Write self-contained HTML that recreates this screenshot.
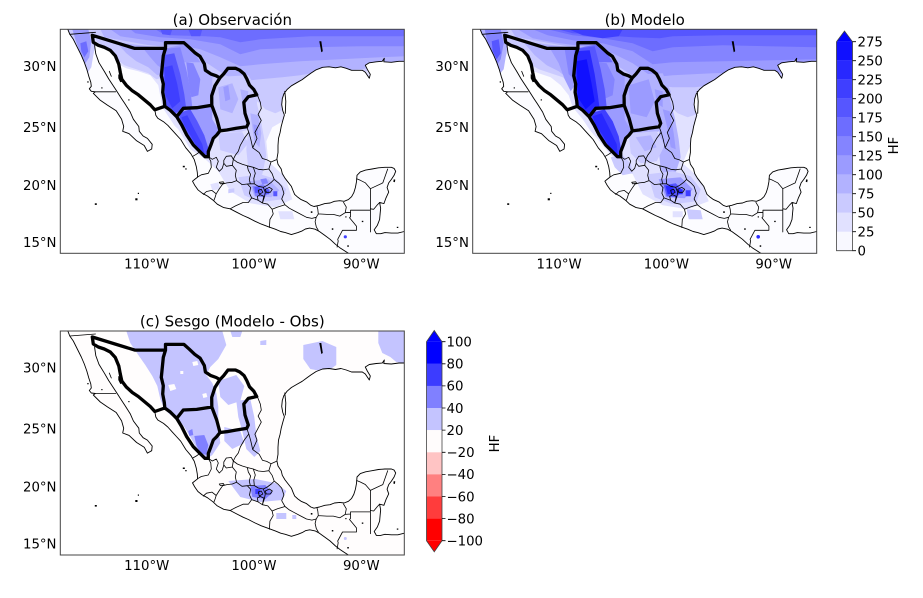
<!DOCTYPE html>
<html><head><meta charset="utf-8"><style>html,body{margin:0;padding:0;background:#fff}svg{display:block}text{font-family:"DejaVu Sans","Liberation Sans",sans-serif;fill:#000}</style></head><body>
<svg width="923" height="598" viewBox="0 0 923 598" xmlns="http://www.w3.org/2000/svg" xmlns:xlink="http://www.w3.org/1999/xlink">
<defs>
<clipPath id="box"><rect x="0" y="0" width="344" height="224"/></clipPath>
<clipPath id="land"><path d="M7.5,0 L9.5,5 L13,10 L17,18 L21,26 L24,33 L26.5,40 L28.5,47 L30.5,53 L31,57 L29,59.5 L31,62 L35,62.5 L33,64 L36,67 L40,71 L47.3,76 L55.9,81.5 L61.3,89.9 L63.4,97.2 L62.4,102 L68.8,104.4 L76.3,111.5 L83.9,116.2 L87.1,122.1 L91.4,119.7 L91.9,115 L87.1,109.1 L82.8,106.7 L79,102 L78.5,97.2 L73.1,90 L69.9,82.7 L64.5,74.2 L61.3,69.4 L55.9,61 L48.4,49.6 L44.1,42.2 L38.7,33.4 L35.5,24.6 L34.4,17 L34.4,13.1 L38,16 L44,18 L50,21 L55,26.5 L58.5,35 L60,43 L61.5,50 L66,56 L72,61.5 L78,65.5 L84,70.5 L90,75.5 L94.5,80.5 L95.5,86 L97.5,89 L103.2,92.4 L107.5,96 L111.8,100.8 L116.1,105.5 L120.4,110.2 L125.5,118.5 L130.5,124.4 L134,130.4 L136,137.3 L137,143.1 L137.3,147.8 L134.4,150.1 L132.2,151.9 L134.4,155.9 L137.6,160.5 L141.9,163.9 L147.3,166.8 L152.65,170.8 L157,174.9 L163.4,178.3 L169.85,179.5 L176.3,182.9 L182.75,186.2 L188.1,188.5 L194.6,191.9 L201,194.8 L208.55,197.6 L215,199.9 L220.4,202.2 L225,203.3 L231.1,205.3 L237.6,203.3 L241.9,201.6 L245.1,199.7 L249.4,198.8 L254.8,199.9 L259.1,202.2 L264.5,206.1 L269.8,210 L275.2,215 L279.5,218.4 L283.8,221.2 L288.1,224 L344,224 L344,202.2 L337.55,203.8 L331.1,203.8 L324.65,203.3 L320.35,204.4 L316.05,204.4 L313.9,200.5 L317.1,195.9 L319.3,190.2 L319.8,184.6 L320.35,178.9 L319.3,173.2 L321.4,173.7 L323.6,174.3 L325.7,168.6 L328.4,162.8 L326.8,158.2 L328.4,153.6 L331.1,150.1 L333.8,146 L335.4,142 L333.8,139.1 L331.1,138 L324.65,138 L318.2,138.5 L311.75,139.7 L305.3,140.8 L300,142.6 L296.7,146 L296.2,152.4 L295.1,158.2 L293.5,163.4 L291.3,167.4 L288.1,170.3 L283.8,172 L279.5,171.4 L274.1,172 L269.8,173.7 L264.5,174.3 L259.1,176 L253.7,177.2 L250.5,176 L246.2,172.6 L240.8,170.3 L237.6,168 L234.35,165.1 L232.7,161.2 L231.1,157.1 L227.9,153 L224.7,148.9 L222,144.3 L220.9,139.7 L217.7,135 L216.6,129.8 L217.7,123.3 L217.7,116.2 L218.2,109.1 L219.8,103.2 L220.9,97.2 L222.5,91.2 L224.1,85.7 L222.5,81.5 L221.4,75.4 L222,69.4 L223.6,64.5 L226.8,60.2 L231.1,56.5 L236.5,53.4 L241.9,50.3 L246.2,47.1 L250.5,44 L255.85,40.5 L262.3,38 L268.75,37.5 L275.2,38.5 L280.6,37.5 L285.95,39 L291.3,41 L297.8,41 L302,41 L305,43 L309,49 L310,45 L307,40 L305,36 L309,33.5 L316,32.5 L322,32 L324,29 L323.5,32.5 L331,33 L338.6,32 L344,32 L344,0 Z"/></clipPath>
<g id="mapLines" fill="none" stroke="#000" stroke-linejoin="round" stroke-linecap="round">
<path stroke-width="0.9" d="M7.5,0 L9.5,5 L13,10 L17,18 L21,26 L24,33 L26.5,40 L28.5,47 L30.5,53 L31,57 L29,59.5 L31,62 L35,62.5 L33,64 L36,67 L40,71 L47.3,76 L55.9,81.5 L61.3,89.9 L63.4,97.2 L62.4,102 L68.8,104.4 L76.3,111.5 L83.9,116.2 L87.1,122.1 L91.4,119.7 L91.9,115 L87.1,109.1 L82.8,106.7 L79,102 L78.5,97.2 L73.1,90 L69.9,82.7 L64.5,74.2 L61.3,69.4 L55.9,61 L48.4,49.6 L44.1,42.2 L38.7,33.4 L35.5,24.6 L34.4,17 L34.4,13.1 M94.5,80.5 L95.5,86 L97.5,89 L103.2,92.4 L107.5,96 L111.8,100.8 L116.1,105.5 L120.4,110.2 L125.5,118.5 L130.5,124.4 L134,130.4 L136,137.3 L137,143.1 L137.3,147.8 L134.4,150.1 L132.2,151.9 L134.4,155.9 L137.6,160.5 L141.9,163.9 L147.3,166.8 L152.65,170.8 L157,174.9 L163.4,178.3 L169.85,179.5 L176.3,182.9 L182.75,186.2 L188.1,188.5 L194.6,191.9 L201,194.8 L208.55,197.6 L215,199.9 L220.4,202.2 L225,203.3 L231.1,205.3 L237.6,203.3 L241.9,201.6 L245.1,199.7 L249.4,198.8 L254.8,199.9 L259.1,202.2 L264.5,206.1 L269.8,210 L275.2,215 L279.5,218.4 L283.8,221.2 L288.1,224 M344,202.2 L337.55,203.8 L331.1,203.8 L324.65,203.3 L320.35,204.4 L316.05,204.4 L313.9,200.5 L317.1,195.9 L319.3,190.2 L319.8,184.6 L320.35,178.9 L319.3,173.2 L321.4,173.7 L323.6,174.3 L325.7,168.6 L328.4,162.8 L326.8,158.2 L328.4,153.6 L331.1,150.1 L333.8,146 L335.4,142 L333.8,139.1 L331.1,138 L324.65,138 L318.2,138.5 L311.75,139.7 L305.3,140.8 L300,142.6 L296.7,146 L296.2,152.4 L295.1,158.2 L293.5,163.4 L291.3,167.4 L288.1,170.3 L283.8,172 L279.5,171.4 L274.1,172 L269.8,173.7 L264.5,174.3 L259.1,176 L253.7,177.2 L250.5,176 L246.2,172.6 L240.8,170.3 L237.6,168 L234.35,165.1 L232.7,161.2 L231.1,157.1 L227.9,153 L224.7,148.9 L222,144.3 L220.9,139.7 L217.7,135 L216.6,129.8 L217.7,123.3 L217.7,116.2 L218.2,109.1 L219.8,103.2 L220.9,97.2 L222.5,91.2 L224.1,85.7 L222.5,81.5 L221.4,75.4 L222,69.4 L223.6,64.5 L226.8,60.2 L231.1,56.5 L236.5,53.4 L241.9,50.3 L246.2,47.1 L250.5,44 L255.85,40.5 L262.3,38 L268.75,37.5 L275.2,38.5 L280.6,37.5 L285.95,39 L291.3,41 L297.8,41 L302,41 L305,43 L309,49 L310,45 L307,40 L305,36 L309,33.5 L316,32.5 L322,32 L324,29 L323.5,32.5 L331,33 L338.6,32 L344,32 M224.5,62 L225.5,72 L225,84"/>
<path stroke-width="0.8" d="M9.5,5 L35.2,3 M35,62.5 L55.5,62.5 M132.5,127 L136,125 L139.7,122.4 M148,127.4 L150.5,132 L151,138 L148,144 L141,145.5 L137.1,147.8 M148,127.4 L152,130 L156,128 L158,132 L156,138 L159,142 L162,139 L163.5,134 M163.5,131 L166,127 L171,126.5 L173,130 L172,136 L166,137 L163.5,134 Z M186.4,97.4 L188.5,103 L184,109 L180,116 L178,122 L175,126 L173,130 M188.5,103 L190.5,110 L192.4,118.5 M197,65.5 L200,73 L201,79.1 L197.8,85.1 L201,91.1 L197.8,97.2 L194.6,103.2 L196.7,109.1 L194.6,113.8 L192.4,118.5 M192.4,118.5 L198.9,123.3 L202.1,129.2 L206.4,130.4 L210.7,132.7 L216,130.4 M173,130 L177,133 L182,135 L187,136.5 L193,138 L198,140 L203,140.5 L208.55,139.7 M210.7,132.7 L208.55,139.7 L211.8,144.3 L213.9,150.1 L218.2,153.6 L221.4,157.1 L223.6,164 L221.4,169.7 L224.7,175.5 L229,178.9 L233.3,181.2 L239.7,184.6 L246.2,188 L251.6,189.1 L255.9,188 L258,184.6 L257.5,180 L256.6,176.6 M255.9,188 L254.8,192.4 L256,197.6 L258,201 M258,184.6 L266.6,185.1 L273,185.1 L279.5,186.8 L284.9,183.4 L286,177.8 L283.2,173 M276.8,217.8 L277.9,211.7 L277.4,210 L282.2,201 L296.2,201 L296.2,197 L293.5,193.6 L289.2,188.5 L290.25,187.4 L290.25,180.9 L310.1,180.9 M284.9,183.4 L290.25,183 M310.1,202.7 L310.1,179.5 L313.4,180 L317.1,175.5 L319.3,173.2 M310.1,180.9 L310.1,159.4 M296.3,149.5 L300,151 L305,153.5 L310.1,159.4 L322.5,153.6 L327.4,139.7 M209.1,198.2 L209.6,190.2 L212.9,184.6 L211.8,180 L217.2,177.8 L224.7,175.5 M169.85,179.5 L175.2,176.6 L182.75,173.2 L188.1,173.2 L191.35,168.6 L197.8,170.9 L202.1,173.7 L207.5,174.9 L211.8,180 M142.97,165.1 L146.2,162.2 L151.6,161.1 L155.9,164.5 L154.8,168 L153.7,170.8 M155.9,164.5 L159.1,159.4 L162.3,154.8 L166.6,153.6 L172,153 L176.3,151.3 M176.3,151.3 L181.7,155.3 L187,154.7 L190.3,158.2 L189.2,164 L191.35,168.6 M172,136 L176,141 L175,146 L176.3,151.3 M187,136.5 L188,141 L190.3,145 L189,150 L190,154.5 M193,138 L195,144 L193.5,149 L194,154.5 L190,154.5 L187,154.7 M194,154.5 L198,157 L203,158 L207,156 L211,153 L213.9,150.1 M203,158 L205,163 L204,168 L202.1,173.7 M197.8,170.9 L197,167 L200,165.5 L203.5,167 L202.1,173.7 M198,161 L201,160 L202.5,163 L199,165 Z M205,160 L209,158 L212,160 L210,163 L206,163 Z M159,153 L163,152.5 L164,154 L160,154.5 Z M49,42 L51,47"/>
<path stroke-width="3.3" d="M32,6 L74.5,19.1 L105.2,19.1 L103,26.4 L102,36.4 L101,46.4 L103,54.7 L102.4,63 L104,71.4 L104.5,77 L94.5,80.5 L90,75.5 L84,70.5 L78,65.5 L72,61.5 L66,56 L61.5,50 L60,43 L58.5,35 L55,26.5 L50,21 L44,18 L38,16 L33,13 Z M105.2,19.1 L105.2,13.4 L123.6,13.4 L129,18.2 L134.4,23.3 L139.75,27.1 L144.05,34.6 L145.1,41 L150.5,44.6 L155.9,46.5 L159.6,48.6 L154.7,56.4 L151.4,66.4 L151.5,76 L136.4,78.4 L123,79 L116.4,87.4 L110,81 L104.5,77 M159.6,48.6 L163.4,44.6 L167.7,39 L175.2,39 L179.5,41 L183.8,44.6 L186.5,49.6 L189.2,55.8 L193.5,60.2 L196.4,65.5 L188,67.4 L183.5,73 L184.7,84 L188,94 L186.4,97.4 L176,99 L166.4,100.7 L159.7,101.5 L156.4,89 L151.5,76 M116.4,87.4 L121.4,95.7 L126.4,105.7 L133,115.7 L139.7,122.4 L144.7,127.4 L148,127.4 L148,122.4 L150.5,116 L153,109 L156.4,105.7 L159.7,101.5"/>
<g fill="#000" stroke="none">
<path d="M58,45 L62,47 L63,52 L60,53 L58,49 Z"/>
<rect x="34.5" y="174" width="2" height="1.6"/><rect x="75" y="169" width="2.2" height="2"/><rect x="77.5" y="163.5" width="1.2" height="1.2"/>
<rect x="122.5" y="136.5" width="2" height="1.5"/><rect x="125" y="139" width="1.3" height="1.3"/>
<path d="M259,12 L261,12 L262.5,22 L261,23 Z"/>
<rect x="250.5" y="182" width="1.6" height="1.6"/><rect x="271.5" y="199" width="1.5" height="1.5"/><rect x="287" y="216" width="1.5" height="1.5"/><rect x="301.5" y="191.5" width="1.5" height="1.3"/><rect x="336.5" y="197.5" width="1.5" height="1.2"/><rect x="285" y="187" width="1.2" height="1.2"/>
<path d="M333.5,150 L335,150.5 L334.5,153 L333,152.5 Z"/>
<rect x="27" y="52" width="1.3" height="1.3"/><rect x="41" y="58" width="1.2" height="1.2"/><rect x="68" y="70" width="1.2" height="1.2"/>
</g>
</g>
</defs>

<!-- Panel (a) -->
<g transform="translate(60.3,29.3)">
<g clip-path="url(#box)">
<g clip-path="url(#land)">
<rect x="0" y="0" width="344" height="224" fill="#fcfcff"/>
<path fill="#e1e1ff" d="M0,0 H344 V62 L300,60 L260,62 L232,70 L226,90 L212,98 L206,112 L208,132 L225,148 L232,170 L215,178 L190,174 L170,162 L158,142 L145,130 L130,120 L118,100 L105,88 L90,70 L70,50 L50,35 L38,40 L30,55 L22,48 L10,20 Z"/>
<path fill="#cacaff" d="M30,0 H344 V40 L300,42 L262,45 L240,52 L228,60 L224,80 L215,84 L205,80 L195,70 L185,62 L170,55 L155,48 L140,35 L120,25 L105,21 L80,19 L60,17 L40,14 Z"/>
<path fill="#b2b2ff" d="M40,0 H344 V33 L300,40 L262,42 L240,46 L222,48 L200,50 L180,52 L165,46 L150,36 L130,24 L110,18 L80,15 L60,13 L45,10 Z"/>
<path fill="#9b9bff" d="M50,0 H344 V27 L320,28 L280,30 L240,32 L200,35 L180,37 L160,28 L140,20 L110,14 L80,10 L60,7 Z"/>
<path fill="#8484ff" d="M70,0 H344 V17 L300,17 L250,18 L200,20 L180,25 L160,15 L130,10 L100,8 L75,4 Z"/>
<path fill="#6d6dff" d="M95,0 H344 V7 L250,7 L200,10 L180,13 L160,8 L145,7 L110,6 L100,3 Z"/>
<path fill="#5656ff" d="M100,0 L112,0 L110,6 L102,5 Z M128,0 L142,0 L140,7 L131,7 Z"/>
<path fill="#cacaff" d="M34,6 L105,19 L104,48 L96,50 L88,44 L76,40 L64,36 L54,28 L44,18 L36,12 Z"/>
<path fill="#b2b2ff" d="M56,13 L105,19 L104,44 L97,46 L88,38 L76,32 L66,24 Z"/>
<path fill="#9b9bff" d="M82,18 L104,19 L103,40 L97,36 L90,28 Z"/>
<path fill="#fcfcff" d="M36,16 L46,24 L56,34 L66,39 L78,42 L90,46 L98,56 L102,78 L110,90 L118,102 L126,116 L134,128 L142,140 L150,152 L140,165 L100,150 L60,110 L30,70 L28,40 Z"/>
<path fill="#cacaff" d="M6,0 L34,0 L35,14 L31,38 L27,44 L21,38 L15,22 Z"/>
<path fill="#9b9bff" d="M12,0 L28,0 L31,12 L29,28 L25,34 L20,24 L15,10 Z"/>
<path fill="#6d6dff" d="M20,14 L26,12 L28,22 L24,28 L21,22 Z"/>
<path fill="#b2b2ff" d="M104,20 L124,15 L135,25 L145,38 L156,48 L152,60 L151,76 L124,80 L117,87 L104,77 Z"/>
<path fill="#9b9bff" d="M105,19 L124,15 L135,25 L140,33 L120,33 L105,35 Z"/>
<path fill="#8484ff" d="M126,33 L133,34 L140,50 L138,66 L131,68 L128,50 Z"/>
<path fill="#8484ff" d="M102,20 L120,18 L126,40 L130,60 L132,78 L124,82 L116,86 L105,78 L102,60 Z"/>
<path fill="#5656ff" d="M103,26 L114,24 L120,45 L124,65 L126,80 L114,84 L106,76 L103,55 Z"/>
<path fill="#3f3fff" d="M104,38 L112,36 L117,55 L120,72 L112,79 L105,66 Z"/>
<path fill="#9b9bff" d="M123,79 L150,76 L156,89 L159,101 L150,116 L148,127 L144,127 L133,116 L121,96 L116,87 Z"/>
<path fill="#5656ff" d="M118,84 L130,80 L137,92 L144,106 L149,122 L144,128 L138,122 L130,110 L122,97 Z"/>
<path fill="#3f3fff" d="M121,88 L127,86 L134,100 L142,115 L144,124 L138,120 L130,106 L124,96 Z"/>
<path fill="#cacaff" d="M152,48 L188,46 L198,62 L196,80 L193,98 L180,103 L160,103 L152,90 Z"/>
<path fill="#b2b2ff" d="M158,58 L172,54 L178,70 L172,84 L160,80 Z M180,60 L188,62 L187,75 L182,72 Z"/>
<path fill="#9b9bff" d="M163,58 L168,56 L170,70 L165,72 Z"/>
<path fill="#cacaff" d="M184,70 L195,68 L200,88 L204,110 L206,126 L202,145 L195,150 L188,140 L186,120 L188,100 L186,85 Z M158,104 L182,103 L188,114 L178,126 L160,121 Z"/>
<path fill="#b2b2ff" d="M190,84 L198,86 L201,104 L199,118 L194,112 L192,98 Z"/>
<path fill="#9b9bff" d="M193,95 L197,96 L198,106 L194,105 Z"/>
<path fill="#cacaff" d="M178,148 L200,145 L216,150 L226,160 L222,170 L200,173 L184,166 Z"/>
<path fill="#b2b2ff" d="M188,152 L208,150 L219,161 L211,168 L194,167 Z"/>
<path fill="#8484ff" d="M192,157 L203,155 L210,162 L204,168 L195,167 Z M200,150 L206,149 L208,154 L202,155 Z"/>
<path fill="#5656ff" d="M194,158 L199,157 L201,163 L195,164 Z M205,160 L209,160 L209,165 L205,165 Z M213,162 L217,162 L217,167 L213,167 Z"/>
<path fill="#e1e1ff" d="M150,155 L158,153 L160,160 L152,161 Z M218,182 L232,182 L234,190 L220,190 Z"/>
<path fill="#cacaff" d="M168,160 L174,159 L174,163 L168,164 Z"/>
<circle cx="285" cy="207.5" r="1.6" fill="#3f3fff"/>
</g>
<use href="#mapLines" xlink:href="#mapLines"/>
</g>
<rect x="0" y="0" width="344" height="224" fill="none" stroke="#444" stroke-width="1"/>
</g>

<!-- Panel (b) -->
<g transform="translate(472.7,29.3)">
<g clip-path="url(#box)">
<g clip-path="url(#land)">
<rect x="0" y="0" width="344" height="224" fill="#fcfcff"/>
<path fill="#e1e1ff" d="M0,0 H344 V65 L300,62 L262,64 L232,72 L226,95 L216,120 L210,134 L228,150 L236,172 L215,180 L190,176 L170,165 L160,145 L150,135 L140,128 L125,110 L112,95 L95,75 L75,55 L55,40 L40,45 L30,58 L22,50 L10,20 Z"/>
<path fill="#cacaff" d="M30,0 H344 V45 L300,50 L262,55 L240,62 L228,68 L224,85 L215,88 L205,84 L195,75 L185,66 L170,58 L155,50 L140,38 L120,28 L105,22 L80,20 L60,18 L40,15 Z"/>
<path fill="#b2b2ff" d="M38,0 H344 V40 L300,46 L262,52 L240,56 L222,58 L200,58 L180,56 L165,50 L150,40 L130,28 L110,20 L80,17 L60,15 L45,11 Z"/>
<path fill="#9b9bff" d="M45,0 H344 V40 L320,42 L280,43 L240,44 L200,46 L180,48 L160,34 L140,24 L110,17 L80,13 L60,9 Z"/>
<path fill="#8484ff" d="M60,0 H344 V30 L300,31 L250,32 L200,33 L180,35 L160,22 L130,14 L100,11 L75,6 Z"/>
<path fill="#6d6dff" d="M75,0 H344 V18 L250,16 L200,18 L180,22 L160,14 L130,9 L100,6 Z"/>
<path fill="#5656ff" d="M85,0 H344 V6 L250,6 L200,7 L187,9 L160,8 L130,6 L100,4 Z"/>
<path fill="#3f3fff" d="M96,0 L150,0 L146,7 L130,9 L110,6 Z"/>
<path fill="#cacaff" d="M34,6 L105,19 L104,50 L98,55 L90,48 L78,44 L66,40 L56,34 L46,24 L36,15 Z"/>
<path fill="#b2b2ff" d="M50,12 L105,19 L104,48 L96,50 L86,42 L74,36 L62,26 Z"/>
<path fill="#9b9bff" d="M76,17 L105,19 L103,55 L98,62 L92,50 L86,34 Z"/>
<path fill="#8484ff" d="M92,20 L104,20 L102,50 L96,45 Z"/>
<path fill="#fcfcff" d="M36,20 L46,30 L56,40 L66,44 L78,48 L88,56 L96,66 L100,78 L110,90 L118,102 L126,116 L134,128 L142,140 L150,152 L140,165 L100,150 L60,110 L30,70 L28,40 Z"/>
<path fill="#b2b2ff" d="M6,0 L34,0 L35,16 L31,40 L26,46 L20,40 L14,22 Z"/>
<path fill="#8484ff" d="M12,0 L28,0 L31,14 L28,30 L24,36 L19,24 L14,10 Z"/>
<path fill="#5656ff" d="M19,12 L26,10 L28,24 L24,30 L20,22 Z"/>
<path fill="#9b9bff" d="M104,20 L124,15 L135,25 L145,38 L156,48 L152,60 L151,76 L124,80 L117,87 L104,77 Z"/>
<path fill="#6d6dff" d="M105,19 L124,15 L135,25 L140,33 L120,33 L105,35 Z"/>
<path fill="#8484ff" d="M124,33 L134,34 L142,50 L140,66 L131,70 L127,50 Z"/>
<path fill="#5656ff" d="M102,20 L122,17 L128,40 L132,60 L134,78 L124,83 L116,87 L105,78 L102,60 Z"/>
<path fill="#2828ff" d="M103,22 L117,21 L122,45 L125,65 L127,80 L114,85 L106,76 L103,55 Z"/>
<path fill="#1010ff" d="M104,32 L114,30 L119,55 L122,72 L113,80 L105,68 Z"/>
<path fill="#9b9bff" d="M123,79 L150,76 L156,89 L159,101 L150,116 L148,127 L144,127 L133,116 L121,96 L116,87 Z"/>
<path fill="#3f3fff" d="M118,84 L132,80 L140,92 L146,107 L149,124 L144,128 L137,122 L128,108 L121,96 Z"/>
<path fill="#2828ff" d="M120,87 L129,84 L137,100 L144,115 L145,125 L138,120 L130,106 L123,96 Z"/>
<path fill="#b2b2ff" d="M152,46 L190,44 L198,62 L196,80 L193,100 L180,104 L160,104 L152,90 Z M184,70 L196,66 L202,88 L206,110 L208,128 L202,146 L195,150 L188,140 L186,120 L187,90 Z"/>
<path fill="#9b9bff" d="M156,56 L176,50 L182,72 L174,88 L158,84 Z M182,60 L190,62 L190,78 L184,74 Z M190,80 L197,82 L201,104 L203,120 L198,118 L195,100 Z"/>
<path fill="#cacaff" d="M156,104 L184,102 L192,116 L184,132 L168,134 L158,124 Z M138,128 L150,126 L158,134 L160,144 L150,146 L142,138 Z M175,145 L200,142 L218,147 L228,160 L224,172 L200,175 L182,168 Z M214,180 L228,181 L230,190 L216,190 Z"/>
<path fill="#b2b2ff" d="M163,108 L178,106 L184,118 L172,122 Z"/>
<path fill="#9b9bff" d="M186,150 L208,148 L220,160 L212,169 L193,168 Z"/>
<path fill="#5656ff" d="M191,156 L203,154 L210,161 L204,168 L194,167 Z"/>
<path fill="#2828ff" d="M193,157 L200,156 L202,164 L195,165 Z M205,160 L210,160 L210,165 L205,165 Z"/>
<path fill="#3f3fff" d="M213,161 L218,161 L218,167 L213,167 Z"/>
<path fill="#e1e1ff" d="M200,182 L210,182 L210,188 L200,188 Z"/>
<circle cx="285.5" cy="207.5" r="1.8" fill="#2828ff"/>
</g>
<use href="#mapLines" xlink:href="#mapLines"/>
</g>
<rect x="0" y="0" width="344" height="224" fill="none" stroke="#444" stroke-width="1"/>
</g>

<!-- Panel (c) -->
<g transform="translate(60.3,331)">
<g clip-path="url(#box)">
<g clip-path="url(#land)">
<rect x="0" y="0" width="344" height="224" fill="#fffdfd"/>
<path fill="#c4c4ff" d="M66,0 L162,0 L166,14 L158,28 L150,36 L146,44 L152,52 L156,62 L158,76 L158,95 L160,112 L152,124 L146,128 L138,120 L130,106 L124,96 L118,88 L110,84 L104,78 L100,68 L97,55 L92,45 L85,34 L78,24 L70,12 Z M158,50 L176,44 L184,55 L180,70 L168,74 L160,66 Z M176,70 L190,68 L194,86 L196,104 L200,120 L194,126 L186,118 L182,100 L178,86 Z M164,96 L180,100 L184,112 L172,118 L164,110 Z M243,14 L262,10 L276,16 L276,34 L266,41 L250,38 L243,28 Z M318,0 H344 V32 L336,31 L330,26 L322,22 L318,12 Z M170,0 L182,0 L180,6 L172,6 Z M200,10 L206,9 L206,14 L200,14 Z M168,150 L195,148 L215,152 L226,160 L222,169 L200,171 L180,166 Z M216,182 L226,182 L226,188 L216,188 Z M232,184 L236,184 L236,188 L232,188 Z"/>
<path fill="#fffdfd" d="M108,54 L114,53 L116,58 L110,60 Z M132,31 L137,30 L138,34 L133,35 Z M142,63 L146,62 L147,66 L143,67 Z M120,40 L123,40 L123,43 L120,43 Z"/>
<path fill="#8080ff" d="M134,105 L144,104 L148,114 L146,124 L140,122 L136,114 Z M128,100 L132,98 L133,104 L129,105 Z M190,155 L205,154 L212,162 L205,168 L192,166 Z"/>
<path fill="#3c3cff" d="M195,158 L200,158 L200,163 L195,163 Z"/>
<circle cx="285" cy="207.5" r="1.5" fill="#c4c4ff"/>
</g>
<use href="#mapLines" xlink:href="#mapLines"/>
</g>
<rect x="0" y="0" width="344" height="224" fill="none" stroke="#444" stroke-width="1"/>
</g>

<!-- Titles -->
<text x="232.3" y="25" font-size="15" text-anchor="middle">(a) Observación</text>
<text x="644.7" y="25" font-size="15" text-anchor="middle">(b) Modelo</text>
<text x="232.3" y="326.5" font-size="15" text-anchor="middle">(c) Sesgo (Modelo - Obs)</text>

<!-- Tick labels -->
<g font-size="13.3">
<g text-anchor="end">
<text x="56.5" y="71">30°N</text><text x="56.5" y="132">25°N</text><text x="56.5" y="190">20°N</text><text x="56.5" y="247">15°N</text>
<text x="468.9" y="71">30°N</text><text x="468.9" y="132">25°N</text><text x="468.9" y="190">20°N</text><text x="468.9" y="247">15°N</text>
<text x="56.5" y="372.7">30°N</text><text x="56.5" y="433.7">25°N</text><text x="56.5" y="491.7">20°N</text><text x="56.5" y="548.7">15°N</text>
</g>
<g text-anchor="middle">
<text x="146.7" y="268.3">110°W</text><text x="254" y="268.3">100°W</text><text x="361.3" y="268.3">90°W</text>
<text x="559.1" y="268.3">110°W</text><text x="666.4" y="268.3">100°W</text><text x="773.7" y="268.3">90°W</text>
<text x="146.7" y="570">110°W</text><text x="254" y="570">100°W</text><text x="361.3" y="570">90°W</text>
</g>
</g>

<!-- Colorbar (b) -->
<g>
<rect x="836.5" y="231.7" width="16" height="19" fill="#f8f8ff"/>
<rect x="836.5" y="212.7" width="16" height="19" fill="#e1e1ff"/>
<rect x="836.5" y="193.7" width="16" height="19" fill="#cacaff"/>
<rect x="836.5" y="174.7" width="16" height="19" fill="#b2b2ff"/>
<rect x="836.5" y="155.7" width="16" height="19" fill="#9b9bff"/>
<rect x="836.5" y="136.7" width="16" height="19" fill="#8484ff"/>
<rect x="836.5" y="117.7" width="16" height="19" fill="#6d6dff"/>
<rect x="836.5" y="98.7" width="16" height="19" fill="#5656ff"/>
<rect x="836.5" y="79.7" width="16" height="19" fill="#3f3fff"/>
<rect x="836.5" y="60.7" width="16" height="19" fill="#2828ff"/>
<rect x="836.5" y="41.7" width="16" height="19" fill="#1010ff"/>
<path d="M836.5,41.7 L844.5,31 L852.5,41.7 Z" fill="#0000ff"/>
<path d="M836.5,41.7 L844.5,31 L852.5,41.7 L852.5,250.7 L836.5,250.7 Z" fill="none" stroke="#444" stroke-width="0.8"/>
<path stroke="#000" stroke-width="0.8" d="M852.5,250.7h3.5M852.5,231.7h3.5M852.5,212.7h3.5M852.5,193.7h3.5M852.5,174.7h3.5M852.5,155.7h3.5M852.5,136.7h3.5M852.5,117.7h3.5M852.5,98.7h3.5M852.5,79.7h3.5M852.5,60.7h3.5M852.5,41.7h3.5"/>
<g font-size="13.3">
<text x="857.5" y="255.5">0</text><text x="857.5" y="236.5">25</text><text x="857.5" y="217.5">50</text><text x="857.5" y="198.5">75</text><text x="857.5" y="179.5">100</text><text x="857.5" y="160.5">125</text><text x="857.5" y="141.5">150</text><text x="857.5" y="122.5">175</text><text x="857.5" y="103.5">200</text><text x="857.5" y="84.5">225</text><text x="857.5" y="65.5">250</text><text x="857.5" y="46.5">275</text>
</g>
<text font-size="13.3" text-anchor="middle" transform="translate(898,145.5) rotate(-90)">HF</text>
</g>

<!-- Colorbar (c) -->
<g>
<rect x="426.5" y="341.7" width="15.5" height="22.2" fill="#0000ff"/>
<rect x="426.5" y="363.8" width="15.5" height="22.2" fill="#3c3cff"/>
<rect x="426.5" y="385.9" width="15.5" height="22.2" fill="#8080ff"/>
<rect x="426.5" y="408.0" width="15.5" height="22.2" fill="#c4c4ff"/>
<rect x="426.5" y="430.1" width="15.5" height="22.2" fill="#fffcfc"/>
<rect x="426.5" y="452.3" width="15.5" height="22.2" fill="#ffc4c4"/>
<rect x="426.5" y="474.4" width="15.5" height="22.2" fill="#ff8080"/>
<rect x="426.5" y="496.5" width="15.5" height="22.2" fill="#ff3c3c"/>
<rect x="426.5" y="518.6" width="15.5" height="22.1" fill="#ff0000"/>
<path d="M426.5,341.7 L434.25,330.5 L442,341.7 Z" fill="#0000ff"/>
<path d="M426.5,540.7 L434.25,551.8 L442,540.7 Z" fill="#ff0000"/>
<path d="M426.5,341.7 L434.25,330.5 L442,341.7 L442,540.7 L434.25,551.8 L426.5,540.7 Z" fill="none" stroke="#444" stroke-width="0.8"/>
<path stroke="#000" stroke-width="0.8" d="M442,341.7h3.5M442,363.8h3.5M442,385.9h3.5M442,408h3.5M442,430.1h3.5M442,452.3h3.5M442,474.4h3.5M442,496.5h3.5M442,518.6h3.5M442,540.7h3.5"/>
<g font-size="13.3">
<text x="446.5" y="346.5">100</text><text x="446.5" y="368.6">80</text><text x="446.5" y="390.7">60</text><text x="446.5" y="412.8">40</text><text x="446.5" y="434.9">20</text><text x="446.5" y="457.1">−20</text><text x="446.5" y="479.2">−40</text><text x="446.5" y="501.3">−60</text><text x="446.5" y="523.4">−80</text><text x="446.5" y="545.5">−100</text>
</g>
<text font-size="13.3" text-anchor="middle" transform="translate(499,443.5) rotate(-90)">HF</text>
</g>
</svg>
</body></html>
